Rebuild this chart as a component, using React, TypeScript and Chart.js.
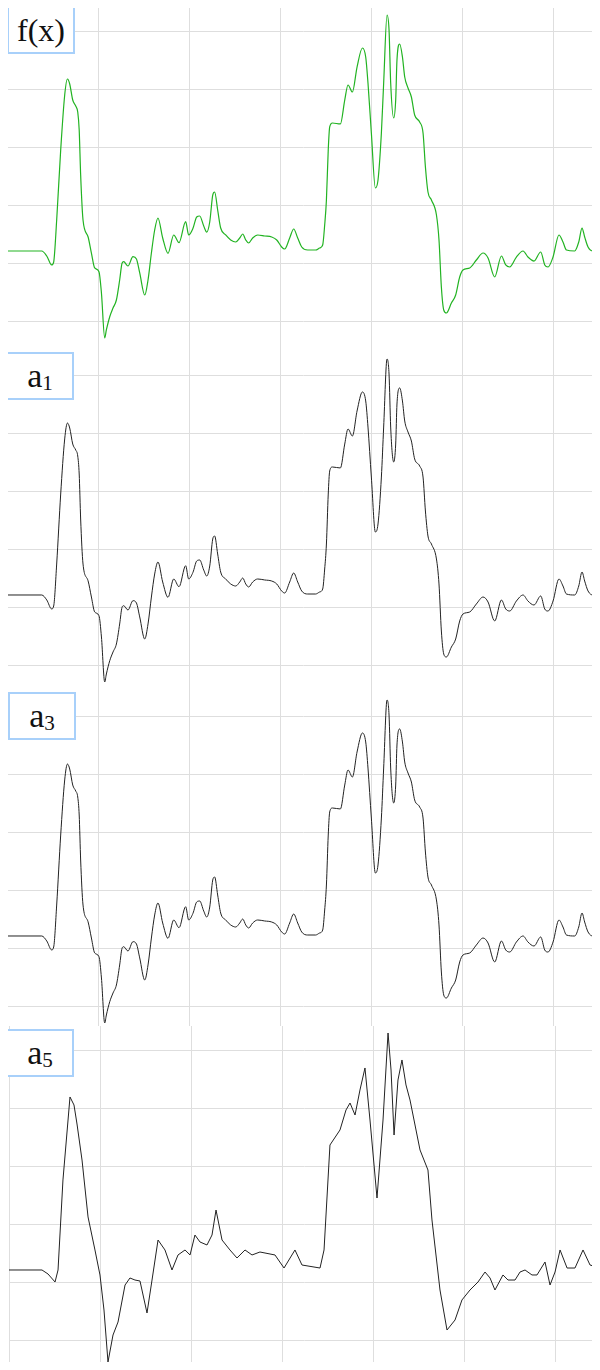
import React, { useEffect, useRef } from "react";
import { Chart, registerables } from "chart.js";

Chart.register(...registerables);

// ---- axis grid values ----
const X_TICKS = [0, 100, 200, 300, 400, 500, 600];
const Y_TICKS = [-10, 0, 10, 20, 30, 40];

// ---- f(x) signal ----
const F_X = [
  0, 38.1, 43.6, 49.0, 51.2, 54.5, 58.9, 63.3, 66.3, 68.8, 72.1, 75.4, 77.6, 79.2, 80.8, 83.4,
  88.9, 92.6, 96.2, 100.9, 103.6, 107.2, 109.0, 112.7, 116.3, 120.0, 123.6, 126.2, 128.0, 132.7,
  138.2, 142.0, 145.6, 151.1, 154.7, 158.4, 162.0, 165.6, 170.8, 176.6, 182.9, 188.7, 196.0,
  199.3, 204.0, 208.1, 211.4, 215.8, 219.1, 222.4, 225.7, 227.8, 231.1, 234.4, 239.9, 245.4,
  250.9, 255.3, 258.6, 261.9, 265.1, 269.5, 275.0, 282.7, 290.4, 295.9, 301.3, 304.6, 310.1,
  314.5, 318.9, 323.3, 329.9, 338.6, 343.0, 346.3, 348.5, 350.4, 352.4, 354.0, 357.0, 365.7,
  370.5, 374.1, 378.9, 384.0, 389.9, 393.5, 396.0, 399.7, 404.1, 407.0, 410.7, 413.2, 416.9,
  419.1, 420.9, 424.2, 426.4, 427.8, 430.8, 433.8, 436.3, 439.9, 443.6, 447.2, 452.7, 456.4,
  459.0, 461.8, 465.6, 471.1, 473.9, 476.5, 479.1, 482.0, 487.5, 492.2, 496.6, 500.2, 507.6,
  514.9, 522.2, 527.7, 535.0, 542.4, 547.1, 551.5, 558.8, 566.1, 571.5, 578.1, 585.5, 589.9,
  593.5, 599.0, 605.5, 609.9, 613.7, 622.8, 627.2, 630.8, 633.7, 637.4, 642.8, 650.2,
];
const F_Y = [
  2.07, 2.07, 1.21, -0.34, 0.17, 7.41, 19.48, 28.97, 31.72, 30.86, 28.1, 27.07, 26.03, 22.93,
  15.17, 7.41, 4.53, 1.72, -0.86, -1.5, -5.17, -12.93, -11.55, -9.26, -7.76, -6.38, -2.93, -0.05,
  0.22, -0.52, 1.09, 0.69, -1.72, -5.52, -2.93, 1.72, 5.69, 7.76, 4.31, 1.67, 4.83, 3.5, 7.12,
  4.83, 5.98, 7.93, 8.1, 6.38, 5.34, 7.07, 11.72, 12.24, 9.14, 6.03, 4.83, 3.97, 3.62, 4.31,
  5.0, 3.97, 3.45, 4.31, 4.83, 4.66, 4.48, 3.97, 2.76, 2.41, 4.31, 5.86, 4.31, 2.76, 2.24, 2.24,
  2.59, 3.1, 6.55, 10.86, 19.48, 23.45, 24.14, 23.97, 28.1, 30.69, 29.48, 33.79, 37.07, 35.52,
  31.03, 22.41, 12.93, 14.31, 22.41, 31.03, 42.76, 40.17, 31.03, 25.0, 28.1, 35.0, 37.76, 35.52,
  32.07, 30.17, 28.62, 25.52, 24.31, 22.41, 16.55, 12.24, 10.86, 8.28, 3.97, -4.14, -8.1, -8.62,
  -6.9, -5.52, -2.41, -1.21, -0.86, 0.52, 1.72, 0.86, -2.41, 1.21, -0.34, -0.69, 1.03, 2.07,
  1.03, 0.34, 1.9, -0.34, -0.69, 1.03, 4.83, 3.62, 2.24, 2.07, 3.62, 6.03, 4.48, 2.76, 2.07, 2.07,
];

// ---- approximations ----
const A1_X = F_X;
const A1_Y = F_Y;
const A3_X = F_X;
const A3_Y = F_Y;

const A5_X = [
  0, 36.2, 42.8, 50.5, 53.8, 59.2, 66.9, 71.3, 74.6, 80.1, 86.7, 94.3, 99.8, 104.2, 108.6, 114.1,
  119.6, 127.3, 132.7, 138.2, 143.7, 151.4, 156.9, 163.5, 171.1, 178.8, 185.4, 193.1, 198.6,
  204.0, 209.5, 217.2, 222.7, 227.1, 233.7, 242.4, 250.1, 258.9, 266.6, 275.3, 291.8, 301.7,
  313.7, 321.4, 341.2, 345.6, 352.1, 363.1, 369.7, 374.1, 379.6, 385.0, 390.5, 396.0, 403.7,
  410.3, 415.8, 419.1, 422.4, 426.7, 431.1, 435.5, 439.9, 450.9, 459.6, 464.0, 472.8, 480.5,
  489.3, 496.9, 505.7, 514.5, 522.2, 527.7, 533.1, 541.9, 547.4, 555.1, 560.6, 566.1, 573.7,
  579.2, 588.0, 593.5, 599.0, 604.5, 612.2, 620.9, 629.7, 637.4, 648.3,
];
const A5_Y = [
  2.07, 2.07, 1.38, 0, 2.07, 17.59, 31.9, 30.52, 27.24, 21.03, 11.21, 5.52, 1.21, -4.83, -13.79,
  -9.14, -6.9, -0.52, 0.69, 0.34, 0.17, -5.34, 0.34, 7.24, 5.52, 2.07, 4.66, 5.52, 4.66, 8.1, 6.9,
  6.38, 8.1, 12.41, 7.24, 5.52, 4.14, 5.52, 4.66, 5.17, 4.66, 2.41, 5.52, 2.93, 2.41, 5.52, 23.62,
  26.21, 29.66, 30.86, 28.79, 33.1, 36.9, 27.93, 14.48, 27.93, 42.93, 36.55, 25.34, 34.83, 38.28,
  33.97, 31.38, 22.76, 19.31, 10.69, -1.38, -8.28, -6.55, -3.1, -1.38, 0, 1.72, 0.69, -1.38, 1.21,
  0.34, 0.34, 1.72, 2.07, 1.21, 1.21, 3.45, -0.52, 1.72, 5.52, 2.41, 2.41, 5.52, 2.93, 2.41,
];

type PanelCfg = {
  key: string;
  main: string;
  sub?: string;
  xs: number[];
  ys: number[];
  color: string;
  lineWidth: number;
  smooth: boolean;
  top: number;
  left: number;
  height: number;
  boxTop: number;
  boxLeft: number;
  fontSize: number;
};

const PX_PER_UNIT_Y = 5.8; // 58px per grid step of 10
const X_UNITS_PER_PX = 1.097;

const PANELS: PanelCfg[] = [
  { key: "f", main: "f(x)", xs: F_X, ys: F_Y, color: "#22b322", lineWidth: 1.2, smooth: true,
    top: 7, left: 7, height: 344, boxTop: 6, boxLeft: 7, fontSize: 32 },
  { key: "a1", main: "a", sub: "1", xs: A1_X, ys: A1_Y, color: "#222222", lineWidth: 1, smooth: true,
    top: 351, left: 7, height: 341, boxTop: 352, boxLeft: 6, fontSize: 34 },
  { key: "a3", main: "a", sub: "3", xs: A3_X, ys: A3_Y, color: "#222222", lineWidth: 1, smooth: true,
    top: 692, left: 7, height: 334, boxTop: 692, boxLeft: 8, fontSize: 34 },
  { key: "a5", main: "a", sub: "5", xs: A5_X, ys: A5_Y, color: "#222222", lineWidth: 1, smooth: false,
    top: 1026, left: 9, height: 344, boxTop: 1029, boxLeft: 6, fontSize: 34 },
];

function Panel({ cfg }: { cfg: PanelCfg }) {
  const ref = useRef<HTMLCanvasElement | null>(null);
  const width = 600 - cfg.left;
  useEffect(() => {
    if (!ref.current) return;
    const ymax = 40 + 24 / PX_PER_UNIT_Y;
    const ymin = ymax - cfg.height / PX_PER_UNIT_Y;
    const xmax = width * X_UNITS_PER_PX;
    const chart = new Chart(ref.current, {
      type: "line",
      data: {
        datasets: [
          {
            data: cfg.xs.map((x, i) => ({ x, y: cfg.ys[i] })),
            borderColor: cfg.color,
            borderWidth: cfg.lineWidth,
            pointRadius: 0,
            fill: false,
            tension: cfg.smooth ? 0.4 : 0,
            cubicInterpolationMode: cfg.smooth ? "monotone" : "default",
          } as any,
        ],
      },
      options: {
        animation: false,
        responsive: false,
        devicePixelRatio: 1,
        events: [],
        layout: { padding: 0 },
        plugins: { legend: { display: false }, tooltip: { enabled: false } },
        scales: {
          x: {
            type: "linear",
            min: 0,
            max: xmax,
            afterBuildTicks: (axis: any) => {
              axis.ticks = X_TICKS.map((v) => ({ value: v }));
            },
            ticks: { display: false },
            grid: { color: "#dedede", lineWidth: 1, drawTicks: false },
            border: { display: false },
          },
          y: {
            type: "linear",
            min: ymin,
            max: ymax,
            afterBuildTicks: (axis: any) => {
              axis.ticks = Y_TICKS.map((v) => ({ value: v }));
            },
            ticks: { display: false },
            grid: { color: "#dedede", lineWidth: 1, drawTicks: false },
            border: { display: false },
          },
        },
      },
    });
    return () => chart.destroy();
  }, []);
  return (
    <canvas
      ref={ref}
      width={width}
      height={cfg.height}
      style={{ position: "absolute", top: cfg.top, left: cfg.left, width, height: cfg.height }}
    />
  );
}

function LabelBox({ cfg }: { cfg: PanelCfg }) {
  return (
    <div
      style={{
        position: "absolute",
        top: cfg.boxTop,
        left: cfg.boxLeft,
        width: 68,
        height: 48,
        boxSizing: "border-box",
        border: "2px solid #a8d0fa",
        background: "#ffffff",
        display: "flex",
        alignItems: "center",
        justifyContent: "center",
        fontFamily: "'Liberation Serif', 'Times New Roman', serif",
        fontSize: cfg.fontSize,
        color: "#111",
        lineHeight: 1,
      }}
    >
      <span>
        {cfg.main}
        {cfg.sub ? (
          <sub style={{ fontSize: "0.62em", verticalAlign: "-0.12em" }}>{cfg.sub}</sub>
        ) : null}
      </span>
    </div>
  );
}

export default function App() {
  return (
    <div
      style={{
        position: "relative",
        margin: -8,
        width: 600,
        height: 1370,
        overflow: "hidden",
        background: "#ffffff",
      }}
    >
      {PANELS.map((p) => (
        <Panel key={p.key} cfg={p} />
      ))}
      {PANELS.map((p) => (
        <LabelBox key={"b" + p.key} cfg={p} />
      ))}
    </div>
  );
}
